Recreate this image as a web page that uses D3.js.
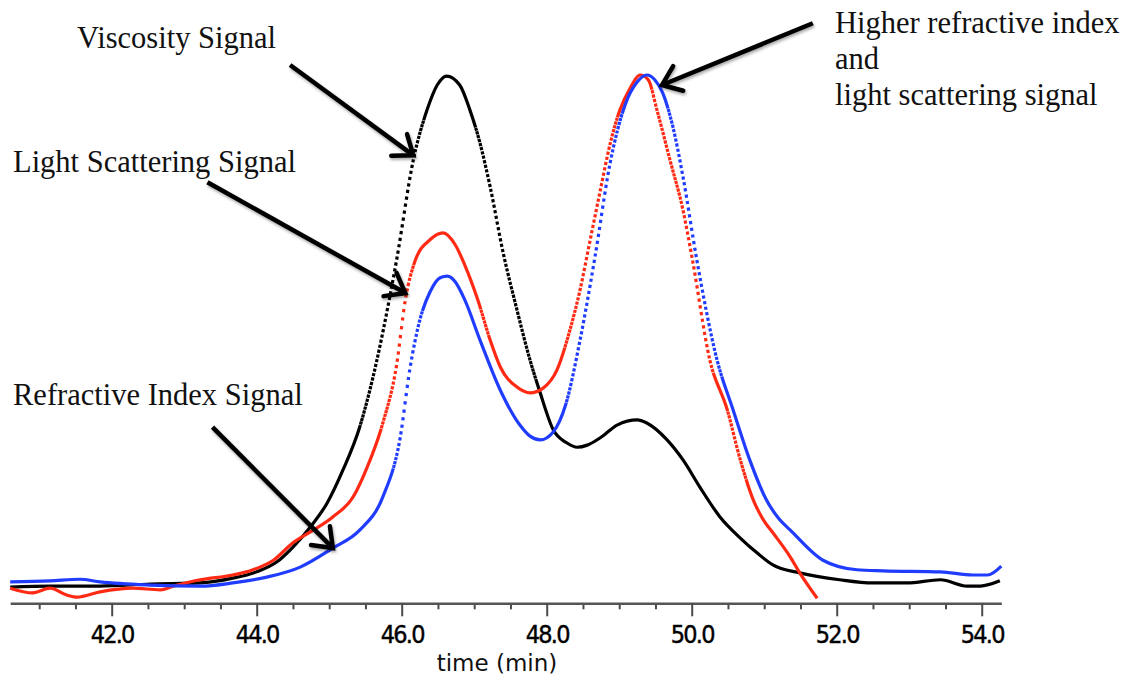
<!DOCTYPE html>
<html>
<head>
<meta charset="utf-8">
<script src="https://cdn.jsdelivr.net/npm/d3@7"></script>
<style>
  body { margin: 0; background: #fff; }
  svg { display: block; }
</style>
</head>
<body>
<svg></svg>
<script>
// detector signals, [time (min), relative signal]
const viscosity = [
  [40.60, 3.0], [41.15, 3.2], [41.84, 3.2], [42.53, 3.6], [43.22, 3.8], [43.67, 4.7],
  [44.00, 5.9], [44.28, 7.8], [44.50, 10.6], [44.74, 14.4], [44.97, 18.9], [45.19, 25.2],
  [45.42, 33.3], [45.56, 40.3], [45.93, 65.0], [46.16, 83.9], [46.35, 93.4],
  [46.49, 98.1], [46.62, 99.8], [46.80, 98.1], [46.94, 93.4], [47.08, 87.1], [47.22, 78.8],
  [47.40, 66.3], [47.59, 55.5], [47.77, 46.0], [47.91, 39.8], [48.09, 32.8], [48.28, 30.3],
  [48.42, 29.5], [48.56, 29.9], [48.74, 31.3], [48.97, 33.7], [49.25, 34.7], [49.38, 34.1],
  [49.66, 30.9], [49.88, 27.1], [50.11, 22.0], [50.39, 16.3], [50.67, 12.3], [50.90, 9.5],
  [51.12, 7.2], [51.49, 5.7], [52.04, 4.4], [52.50, 3.8], [52.97, 3.8], [53.43, 4.4],
  [53.80, 3.2], [53.98, 3.2], [54.25, 4.2]
];
const lightScattering = [
  [40.60, 2.8], [40.91, 1.9], [41.15, 2.8], [41.38, 1.5], [41.52, 1.1], [41.84, 2.1],
  [42.29, 2.8], [42.67, 2.5], [42.85, 3.2], [43.22, 4.4], [43.67, 5.3], [43.95, 6.3],
  [44.23, 8.1], [44.50, 11.4], [44.78, 13.8], [45.05, 16.3], [45.33, 20.1], [45.52, 25.6],
  [45.74, 34.1], [45.93, 45.1], [46.05, 57.4], [46.19, 65.0], [46.39, 68.8], [46.57, 70.1],
  [46.74, 67.8], [46.87, 64.0], [47.05, 57.4], [47.22, 49.8], [47.36, 44.7], [47.59, 40.9],
  [47.77, 39.8], [47.95, 40.7], [48.14, 44.1], [48.32, 51.7], [48.46, 59.3], [48.60, 68.8],
  [48.74, 78.2], [48.87, 86.7], [49.01, 93.4], [49.15, 97.5], [49.29, 100.0], [49.40, 99.1],
  [49.52, 93.4], [49.70, 83.9], [49.88, 74.4], [50.01, 65.0], [50.25, 46.0], [50.49, 36.6],
  [50.67, 27.1], [50.85, 19.5], [50.99, 15.7], [51.12, 13.3], [51.36, 8.7], [51.49, 5.7],
  [51.73, 0.9]
];
const refractiveIndex = [
  [40.60, 4.0], [41.15, 4.2], [41.56, 4.5], [41.84, 4.0], [42.53, 3.4], [43.22, 3.2],
  [43.67, 3.8], [44.14, 4.9], [44.60, 6.8], [45.05, 10.4], [45.42, 13.8], [45.74, 20.1],
  [45.98, 31.4], [46.11, 44.1], [46.25, 53.6], [46.39, 58.9], [46.53, 61.6], [46.63, 61.9],
  [46.74, 60.8], [46.87, 57.4], [47.08, 49.8], [47.36, 40.3], [47.63, 33.7], [47.77, 31.6],
  [47.91, 30.9], [48.09, 32.4], [48.26, 37.5], [48.46, 49.8], [48.67, 65.9], [48.87, 83.0],
  [49.08, 94.3], [49.25, 98.7], [49.38, 100.0], [49.49, 99.1], [49.60, 96.6], [49.74, 90.2],
  [49.88, 80.7], [50.07, 65.0], [50.35, 46.0], [50.57, 36.6], [50.80, 27.1], [51.02, 19.8],
  [51.20, 16.0], [51.36, 13.8], [51.81, 8.1], [52.28, 6.3], [52.64, 6.1], [53.43, 5.9],
  [53.88, 5.3], [54.08, 5.3], [54.27, 7.0]
];
const majorTicks = [42, 44, 46, 48, 50, 52, 54];
const minorTicks = [41, 41.5, 42.5, 43, 43.5, 44.5, 45, 45.5, 46.5, 47, 47.5,
                    48.5, 49, 49.5, 50.5, 51, 51.5, 52.5, 53, 53.5];
const xTitle = 'time (min)';
const noteTexts = [
  ['Viscosity Signal'],
  ['Light Scattering Signal'],
  ['Refractive Index Signal'],
  ['Higher refractive index', 'and', 'light scattering signal']
];

const WIDTH = 1125, HEIGHT = 678, AXIS_Y = 603.3;

const svg = d3.select('svg').attr('width', WIDTH).attr('height', HEIGHT);

const x = d3.scaleLinear().domain([40.6, 54.27]).range([10.2, 1001.3]);
const y = d3.scaleLinear().domain([0, 100]).range([603, 75]);

// arrow shadow
const defs = svg.append('defs');
defs.append('filter').attr('id', 'shadow')
  .attr('x', '-20%').attr('y', '-20%').attr('width', '140%').attr('height', '140%')
  .append('feDropShadow')
  .attr('dx', 1).attr('dy', 2).attr('stdDeviation', 1.6)
  .attr('flood-color', '#000').attr('flood-opacity', 0.35);

// x axis: minor then major ticks
const minorAxis = svg.append('g')
  .attr('transform', `translate(0,${AXIS_Y})`)
  .call(d3.axisBottom(x).tickValues(minorTicks).tickSize(6).tickSizeOuter(0).tickFormat(''));
minorAxis.select('.domain').remove();

const majorAxis = svg.append('g')
  .attr('transform', `translate(0,${AXIS_Y})`)
  .call(d3.axisBottom(x).tickValues(majorTicks).tickSize(13).tickSizeOuter(0)
    .tickFormat(d3.format('.1f')));

svg.selectAll('.tick line').attr('stroke', '#4a4a4a').attr('stroke-width', 2);
majorAxis.select('.domain').attr('stroke', '#555').attr('stroke-width', 2.6);
majorAxis.selectAll('.tick text')
  .attr('y', 40).attr('dy', 0)
  .attr('fill', '#000')
  .attr('stroke', '#000').attr('stroke-width', 0.4)
  .style('font-family', '"DejaVu Sans Condensed", "DejaVu Sans", sans-serif')
  .style('font-size', '25px')
  .style('letter-spacing', '-1.8px');

svg.append('text')
  .attr('x', 497).attr('y', 671)
  .attr('text-anchor', 'middle')
  .style('font-family', '"DejaVu Sans", sans-serif')
  .style('font-size', '23px')
  .attr('fill', '#111')
  .text(xTitle);

// signals: the instrument samples at a fixed time step, so steep stretches
// break up into separate dots while flat stretches look solid
const line = d3.line().x(d => x(d[0])).y(d => y(d[1])).curve(d3.curveMonotoneX);
const STEP = 1.07, DOT = 3.2;

function drawTrace(data, color) {
  const path = svg.append('path')
    .attr('d', line(data))
    .attr('fill', 'none')
    .attr('stroke', color)
    .attr('stroke-width', 3.2)
    .attr('stroke-linecap', 'butt');
  const node = path.node();
  const total = node.getTotalLength();
  const dash = [];
  let pos = 0, run = 0;
  while (pos < total) {
    const p = node.getPointAtLength(pos);
    const q = node.getPointAtLength(Math.min(total, pos + 1));
    const dx = Math.max(1e-3, Math.abs(q.x - p.x));
    const s = Math.abs(q.y - p.y) / dx;
    const spacing = STEP * Math.sqrt(1 + s * s);
    if (spacing > DOT + 0.4) {
      dash.push(run + DOT, spacing - DOT);
      run = 0;
      pos += spacing;
    } else {
      run += 1;
      pos += 1;
    }
  }
  if (run > 0) dash.push(run, 10);
  path.attr('stroke-dasharray', dash.join(' '));
}

drawTrace(viscosity, '#000000');
drawTrace(lightScattering, '#ff2a14');
drawTrace(refractiveIndex, '#1f3cff');

// annotations
const notePos = [
  { tx: 77, ty: 48, from: [44.46, 101.9], to: [46.16, 84.8] },
  { tx: 13, ty: 172, from: [43.32, 79.7], to: [46.05, 58.7] },
  { tx: 13, ty: 405, from: [43.39, 33.3], to: [45.05, 10.4] },
  { tx: 835, ty: 33, from: [51.67, 109.8], to: [49.59, 98.1] }
];

const notes = svg.append('g');
noteTexts.forEach((lines, i) => {
  const p = notePos[i];
  const t = notes.append('text')
    .attr('x', p.tx).attr('y', p.ty)
    .style('font-family', '"Liberation Serif", "Times New Roman", serif')
    .style('font-size', '30.5px')
    .attr('fill', '#111');
  lines.forEach((s, j) => {
    t.append('tspan').attr('x', p.tx).attr('y', p.ty + j * 36).text(s);
  });

  const x1 = x(p.from[0]), y1 = y(p.from[1]);
  const x2 = x(p.to[0]), y2 = y(p.to[1]);
  const ang = Math.atan2(y2 - y1, x2 - x1);
  const L = 22, spread = 0.65;
  const head = [
    [x2 - L * Math.cos(ang - spread), y2 - L * Math.sin(ang - spread)],
    [x2, y2],
    [x2 - L * Math.cos(ang + spread), y2 - L * Math.sin(ang + spread)]
  ];
  const arrow = notes.append('g').attr('filter', 'url(#shadow)')
    .attr('fill', 'none').attr('stroke', '#000').attr('stroke-width', 4.5);
  arrow.append('line')
    .attr('x1', x1).attr('y1', y1).attr('x2', x2 - 2 * Math.cos(ang)).attr('y2', y2 - 2 * Math.sin(ang));
  arrow.append('path')
    .attr('d', d3.line()(head))
    .attr('stroke-linejoin', 'miter').attr('stroke-linecap', 'round');
});
</script>
</body>
</html>
